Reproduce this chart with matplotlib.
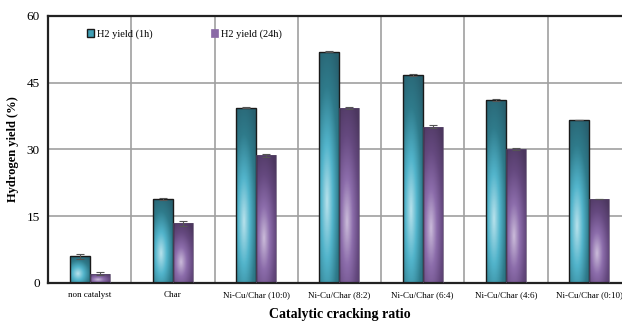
import numpy as np
import matplotlib.pyplot as plt
from matplotlib.colors import LinearSegmentedColormap

plt.rcParams['font.family'] = ['Liberation Serif', 'DejaVu Serif']

categories = ['non catalyst', 'Char', 'Ni-Cu/Char (10:0)', 'Ni-Cu/Char (8:2)',
              'Ni-Cu/Char (6:4)', 'Ni-Cu/Char (4:6)', 'Ni-Cu/Char (0:10)']
yield_1h = [6.0, 18.9, 39.4, 52.0, 46.7, 41.1, 36.6]
yield_24h = [2.1, 13.4, 28.7, 39.3, 35.1, 30.1, 18.9]
err_1h = [0.6, 0.2, 0.15, 0.2, 0.2, 0.15, 0.0]
err_24h = [0.4, 0.5, 0.3, 0.3, 0.3, 0.2, 0.0]

teal = LinearSegmentedColormap.from_list('teal', ['#b8e2ec', '#52b4cb', '#2f7b8b', '#28606f'])
purple = LinearSegmentedColormap.from_list('purple', ['#cbbcda', '#8c6dab', '#65497f', '#4c375f'])

fig = plt.figure(figsize=(6.22, 3.21), dpi=100)
ax = fig.add_axes([0.0772, 0.1184, 0.937, 0.832])

x = np.arange(len(categories))
w = 0.24


def grad_bars(bars, cmap):
    # fake the soft highlight of the original with an image clipped to each bar
    gy, gx = np.mgrid[0:1:120j, 0:1:40j]
    d = np.sqrt(((gx - 0.4) / 0.9) ** 2 + ((gy - 0.35) / 0.75) ** 2)
    d = np.clip(d, 0, 1)
    for b in bars:
        x0, y0 = b.get_x(), b.get_y()
        bw, bh = b.get_width(), b.get_height()
        im = ax.imshow(d, cmap=cmap, vmin=0, vmax=1, origin='lower', aspect='auto',
                       extent=[x0, x0 + bw, y0, y0 + bh], zorder=2)
        im.set_clip_path(b)


b1 = ax.bar(x - w / 2, yield_1h, w, facecolor='none', edgecolor='#1a1a1a', linewidth=1.0,
            zorder=3, label='H2 yield (1h)')
b2 = ax.bar(x + w / 2, yield_24h, w, facecolor='none', edgecolor='#5a4a6a', linewidth=0.5,
            zorder=3, label='H2 yield (24h)')
grad_bars(b1, teal)
grad_bars(b2, purple)

ax.errorbar(x - w / 2, yield_1h, yerr=err_1h, fmt='none', ecolor='#555555', elinewidth=0.8,
            capsize=3, capthick=0.8, zorder=4)
ax.errorbar(x + w / 2, yield_24h, yerr=err_24h, fmt='none', ecolor='#555555', elinewidth=0.8,
            capsize=3, capthick=0.8, zorder=4)

ax.set_xlim(-0.5, len(categories) - 0.5)
ax.set_ylim(0, 60)
ax.set_yticks([0, 15, 30, 45, 60])
ax.set_xticks(x)
ax.set_xticklabels(categories, fontsize=6.5)
ax.set_xticks(np.arange(0.5, len(categories) - 0.5, 1), minor=True)
ax.tick_params(axis='y', labelsize=9.5, length=0, pad=6)
ax.tick_params(axis='x', which='both', length=0, pad=6)
ax.grid(axis='y', color='#a0a0a0', linewidth=1.2, zorder=0)
ax.grid(axis='x', which='minor', color='#a0a0a0', linewidth=1.2, zorder=0)

for s in ['left', 'bottom', 'top']:
    ax.spines[s].set_linewidth(1.6)
    ax.spines[s].set_color('#222222')
ax.spines['right'].set_visible(False)

ax.set_xlabel('Catalytic cracking ratio', fontsize=10, fontweight='bold', labelpad=6)
ax.set_ylabel('Hydrogen yield (%)', fontsize=9, fontweight='bold', labelpad=5)

leg = ax.legend(loc='upper left', bbox_to_anchor=(0.05, 0.985), ncol=2, frameon=False,
                fontsize=7.5, handlelength=0.7, handleheight=0.7, handletextpad=0.3,
                columnspacing=5.6)
leg.legend_handles[0].set_facecolor('#3f9fb5')
leg.legend_handles[1].set_facecolor('#8a6aa6')
leg.legend_handles[1].set_edgecolor('#8a6aa6')

fig.savefig('out.png', dpi=100)
